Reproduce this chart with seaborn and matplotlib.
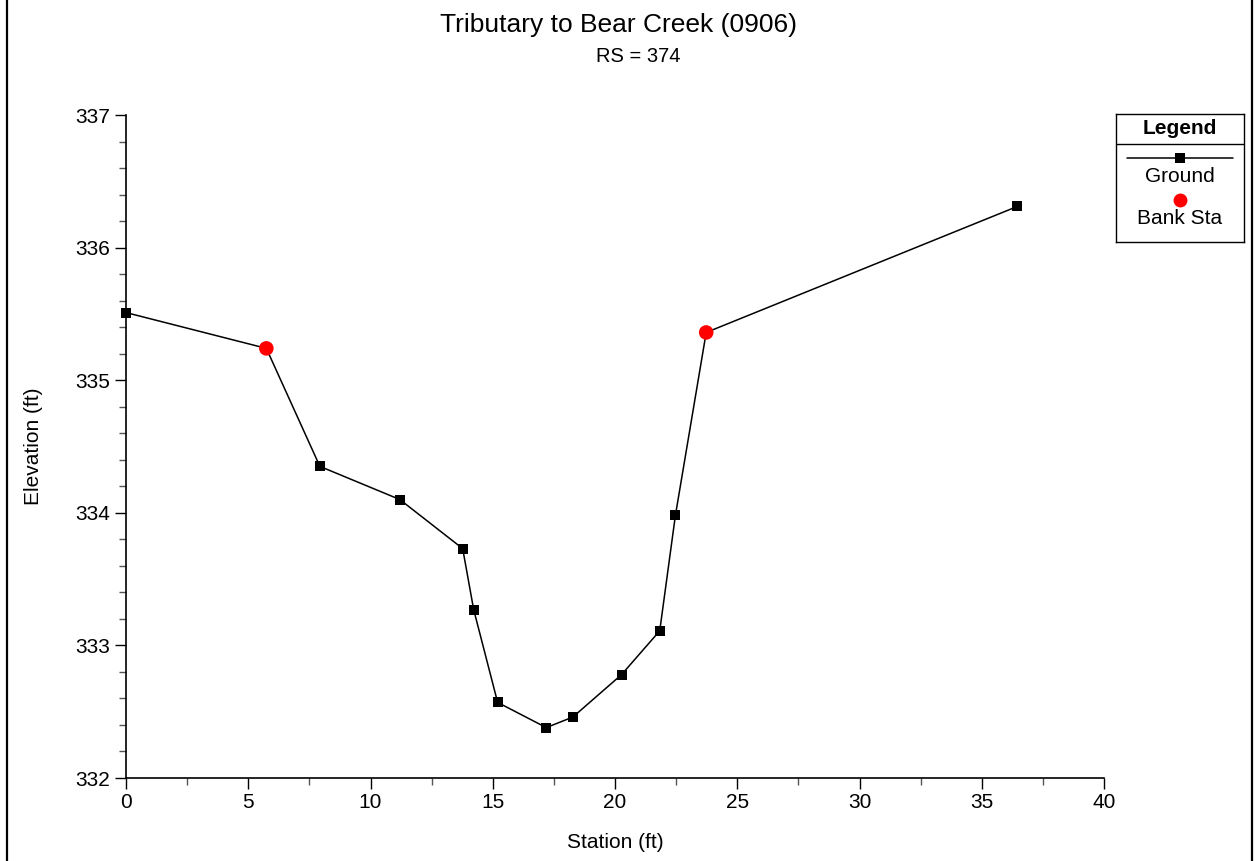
import numpy as np
import pandas as pd
import seaborn as sns
import matplotlib.pyplot as plt
from matplotlib.lines import Line2D
from matplotlib.ticker import MultipleLocator

# ground profile of the cross section (station, elevation)
station = [0.0, 5.74, 7.93, 11.2, 13.77, 14.22, 15.2, 17.19, 18.28, 20.27, 21.83, 22.47, 23.73, 36.45]
elevation = [335.51, 335.24, 334.35, 334.10, 333.73, 333.27, 332.57, 332.38, 332.46, 332.78, 333.11, 333.98, 335.36, 336.31]

# bank stations
bank_station = [5.74, 23.73]
bank_elevation = [335.24, 335.36]

title = "Tributary to Bear Creek (0906)"
subtitle = "RS = 374"

sns.set_style("ticks")
plt.rcParams['font.family'] = ['Liberation Sans', 'DejaVu Sans']
plt.rcParams['text.color'] = 'black'
plt.rcParams['axes.labelcolor'] = 'black'

ground = pd.DataFrame({"Station": station, "Elevation": elevation})
banks = pd.DataFrame({"Station": bank_station, "Elevation": bank_elevation})

fig = plt.figure(figsize=(12.55, 8.61), dpi=100)
ax = fig.add_axes([126 / 1255, 1 - 778 / 861, 978 / 1255, 663 / 861])

sns.lineplot(data=ground, x="Station", y="Elevation", color="black", linewidth=1.1,
             marker="s", markersize=6.5, markeredgewidth=0, clip_on=False, ax=ax)
sns.scatterplot(data=banks, x="Station", y="Elevation", color="red", s=110,
                edgecolor="none", zorder=5, clip_on=False, ax=ax)

ax.set_xlim(0, 40)
ax.set_ylim(332, 337)
ax.xaxis.set_major_locator(MultipleLocator(5))
ax.xaxis.set_minor_locator(MultipleLocator(2.5))
ax.yaxis.set_major_locator(MultipleLocator(1))
ax.yaxis.set_minor_locator(MultipleLocator(0.2))
ax.tick_params(which="major", length=8, width=1, labelsize=15, color="black", labelcolor="black")
ax.tick_params(which="minor", length=5, width=1, color="#555555")
ax.tick_params(axis="x", which="major", pad=3)
sns.despine(ax=ax)
for s in ["left", "bottom"]:
    ax.spines[s].set_color("black")
    ax.spines[s].set_linewidth(1.2)

ax.set_xlabel("Station (ft)", fontsize=15, labelpad=15)
ax.set_ylabel("Elevation (ft)", fontsize=15, labelpad=23)

fig.text(618 / 1255, 1 - 25 / 861, title, ha="center", va="center", fontsize=19)
fig.text(638 / 1255, 1 - 56 / 861, subtitle, ha="center", va="center", fontsize=14.5)

# legend box drawn like the original: header, then marker above each label
lax = fig.add_axes([1116 / 1255, 1 - 242 / 861, 128 / 1255, 128 / 861])
lax.set_xlim(1116, 1244)
lax.set_ylim(242, 114)
lax.set_xticks([])
lax.set_yticks([])
for s in lax.spines.values():
    s.set_linewidth(1)
    s.set_color("black")
lax.axhline(144, color="black", linewidth=1)
lax.text(1180, 128, "Legend", ha="center", va="center", fontsize=15, fontweight="bold")
lax.add_line(Line2D([1127, 1233], [157.5, 157.5], color="black", linewidth=1.1))
lax.plot([1180], [157.5], marker="s", color="black", markersize=6.5, markeredgewidth=0)
lax.text(1180, 176, "Ground", ha="center", va="center", fontsize=15)
lax.plot([1180], [199.5], marker="o", color="red", markersize=10, markeredgewidth=0)
lax.text(1180, 218, "Bank Sta", ha="center", va="center", fontsize=15)

# outer frame lines at the left and right edges
fig.add_artist(Line2D([6.5 / 1255, 6.5 / 1255], [0, 1], color="black", linewidth=1.6))
fig.add_artist(Line2D([1252 / 1255, 1252 / 1255], [0, 1], color="black", linewidth=1.6))

fig.savefig("out.png", dpi=100)
